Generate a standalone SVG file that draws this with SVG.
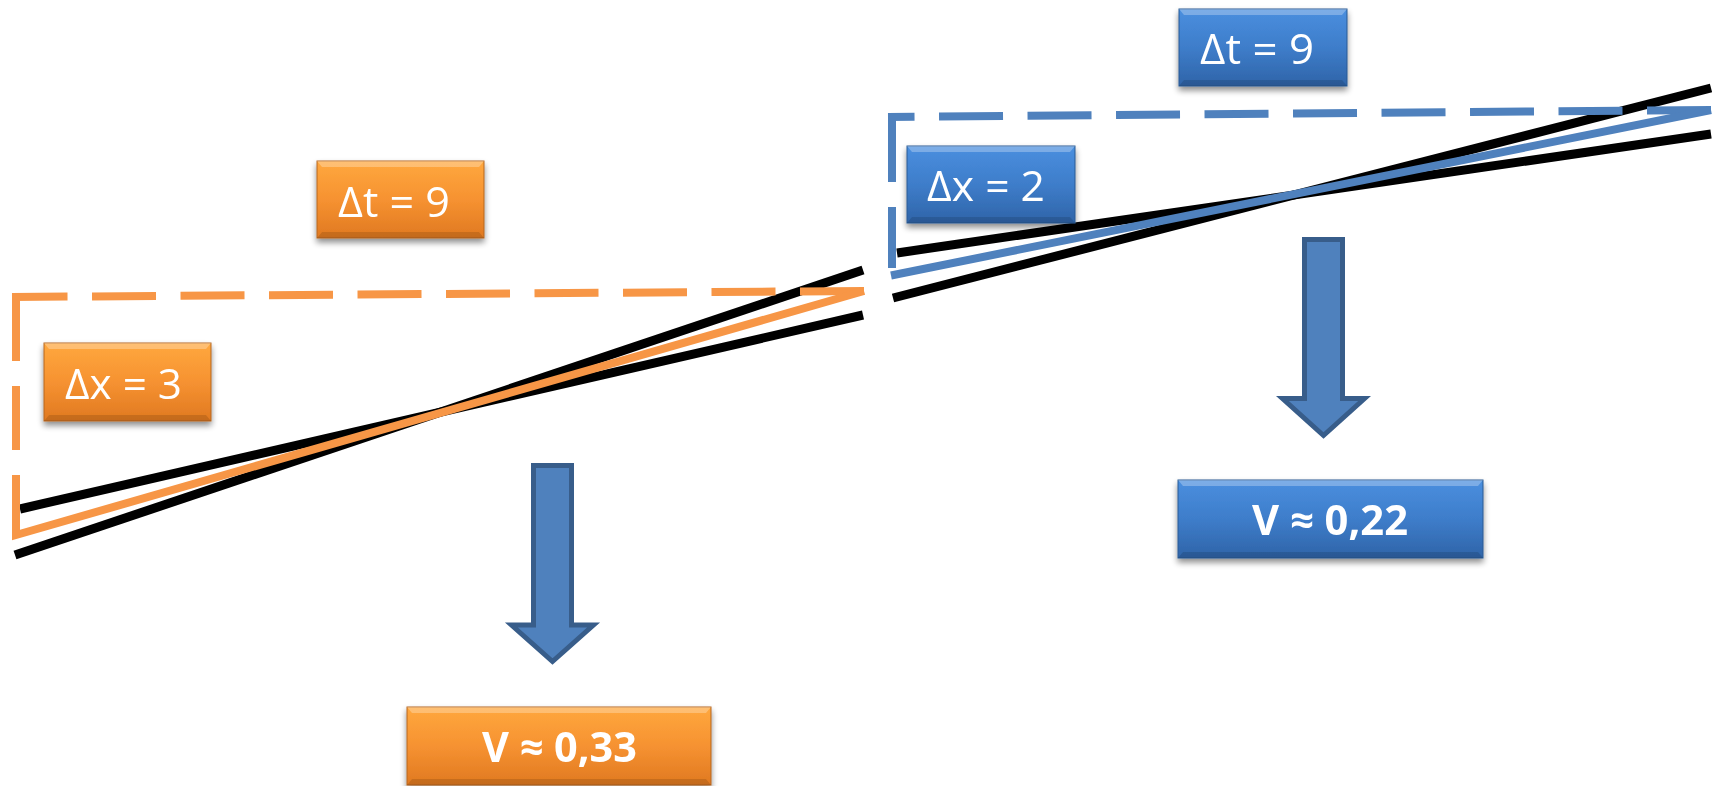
<svg xmlns="http://www.w3.org/2000/svg" width="1713" height="786" viewBox="0 0 1713 786">
<defs>
<linearGradient id="gOrange" x1="0" y1="0" x2="0" y2="1">
<stop offset="0" stop-color="#FFA83E"/>
<stop offset="0.5" stop-color="#F69231"/>
<stop offset="1" stop-color="#E07921"/>
</linearGradient>
<linearGradient id="gBlue" x1="0" y1="0" x2="0" y2="1">
<stop offset="0" stop-color="#4A8FDF"/>
<stop offset="0.5" stop-color="#3E7DCA"/>
<stop offset="1" stop-color="#2F64A8"/>
</linearGradient>
<filter id="shadow" x="-10%" y="-20%" width="120%" height="150%">
<feGaussianBlur in="SourceAlpha" stdDeviation="3"/>
<feOffset dx="0" dy="4" result="b"/>
<feComponentTransfer><feFuncA type="linear" slope="0.45"/></feComponentTransfer>
<feMerge><feMergeNode/><feMergeNode in="SourceGraphic"/></feMerge>
</filter>
</defs>
<style>
.blk{stroke:#000;stroke-width:9;fill:none}
.or{stroke:#F79646;stroke-width:8;fill:none}
.bl{stroke:#4F81BD;stroke-width:8;fill:none}
.dash{stroke-dasharray:64 24.5}
.boxO{fill:url(#gOrange);stroke:#B5661F;stroke-width:1}
.boxB{fill:url(#gBlue);stroke:#2B5B93;stroke-width:1}
.hi{fill:#FFFFFF;opacity:0.28}
.lo{fill:#000000;opacity:0.12}
.lbl{fill:#FFFFFF;font-family:"Open Sans","Liberation Sans",sans-serif;font-size:42px}
.res{fill:#FFFFFF;font-family:"Open Sans","Liberation Sans",sans-serif;font-size:41px;font-weight:bold}
.arrow{fill:#4F81BD;stroke:#385D8A;stroke-width:5;stroke-linejoin:miter}
</style>
<rect width="1713" height="786" fill="#FFFFFF"/>

<g id="connectors">
<g id="orange-lines">
<line class="blk" x1="20" y1="509" x2="863" y2="315"/>
<line class="blk" x1="15" y1="555" x2="863" y2="270"/>
<path class="or dash" d="M864,291 L12,297"/>
<path class="or" d="M16,293 V450" stroke-dasharray="68 25"/>
<path class="or" d="M16,475 V535 L864,291"/>
</g>
<g id="blue-lines">
<line class="blk" x1="897" y1="253" x2="1711" y2="134"/>
<line class="blk" x1="893" y1="298" x2="1711" y2="88"/>
<path class="bl dash" d="M1711,110 L888,117"/>
<path class="bl" d="M892,113 V268" stroke-dasharray="69 25"/>
<path class="bl" d="M891,275.5 L1711,110"/>
</g>
</g>

<g id="node-orange-dt" filter="url(#shadow)">
<rect class="boxO" x="317" y="161" width="167" height="77"/>
<polygon class="hi" points="317,161 484,161 479,167 322,167"/>
<polygon class="lo" points="317,238 484,238 479,232 322,232"/>
<text class="lbl" x="338" y="217" textLength="112" lengthAdjust="spacingAndGlyphs">Δt = 9</text>
</g>
<g id="node-orange-dx" filter="url(#shadow)">
<rect class="boxO" x="44" y="343" width="167" height="78"/>
<polygon class="hi" points="44,343 211,343 206,349 49,349"/>
<polygon class="lo" points="44,421 211,421 206,415 49,415"/>
<text class="lbl" x="65" y="399" textLength="117" lengthAdjust="spacingAndGlyphs">Δx = 3</text>
</g>
<g id="node-blue-dt" filter="url(#shadow)">
<rect class="boxB" x="1179" y="9" width="168" height="77"/>
<polygon class="hi" points="1179,9 1347,9 1342,15 1184,15"/>
<polygon class="lo" points="1179,86 1347,86 1342,80 1184,80"/>
<text class="lbl" x="1200" y="64" textLength="114" lengthAdjust="spacingAndGlyphs">Δt = 9</text>
</g>
<g id="node-blue-dx" filter="url(#shadow)">
<rect class="boxB" x="907" y="146" width="168" height="77"/>
<polygon class="hi" points="907,146 1075,146 1070,152 912,152"/>
<polygon class="lo" points="907,223 1075,223 1070,217 912,217"/>
<text class="lbl" x="927" y="201" textLength="118" lengthAdjust="spacingAndGlyphs">Δx = 2</text>
</g>

<g id="arrow-left">
<path class="arrow" d="M533.5,465.5 H571.5 V625 H593.5 L552.5,661.5 L511.5,625 H533.5 Z"/>
</g>
<g id="arrow-right">
<path class="arrow" d="M1304.5,239.5 H1342.5 V398.5 H1364.5 L1323.5,435.5 L1282.5,398.5 H1304.5 Z"/>
</g>

<g id="node-v033" filter="url(#shadow)">
<rect class="boxO" x="407" y="707" width="304" height="78"/>
<polygon class="hi" points="407,707 711,707 706,713 412,713"/>
<polygon class="lo" points="407,785 711,785 706,779 412,779"/>
<text class="res" x="482" y="762" textLength="155" lengthAdjust="spacingAndGlyphs">V ≈ 0,33</text>
</g>
<g id="node-v022" filter="url(#shadow)">
<rect class="boxB" x="1178" y="480" width="305" height="78"/>
<polygon class="hi" points="1178,480 1483,480 1478,486 1183,486"/>
<polygon class="lo" points="1178,558 1483,558 1478,552 1183,552"/>
<text class="res" x="1252" y="535" textLength="156" lengthAdjust="spacingAndGlyphs">V ≈ 0,22</text>
</g>
</svg>
